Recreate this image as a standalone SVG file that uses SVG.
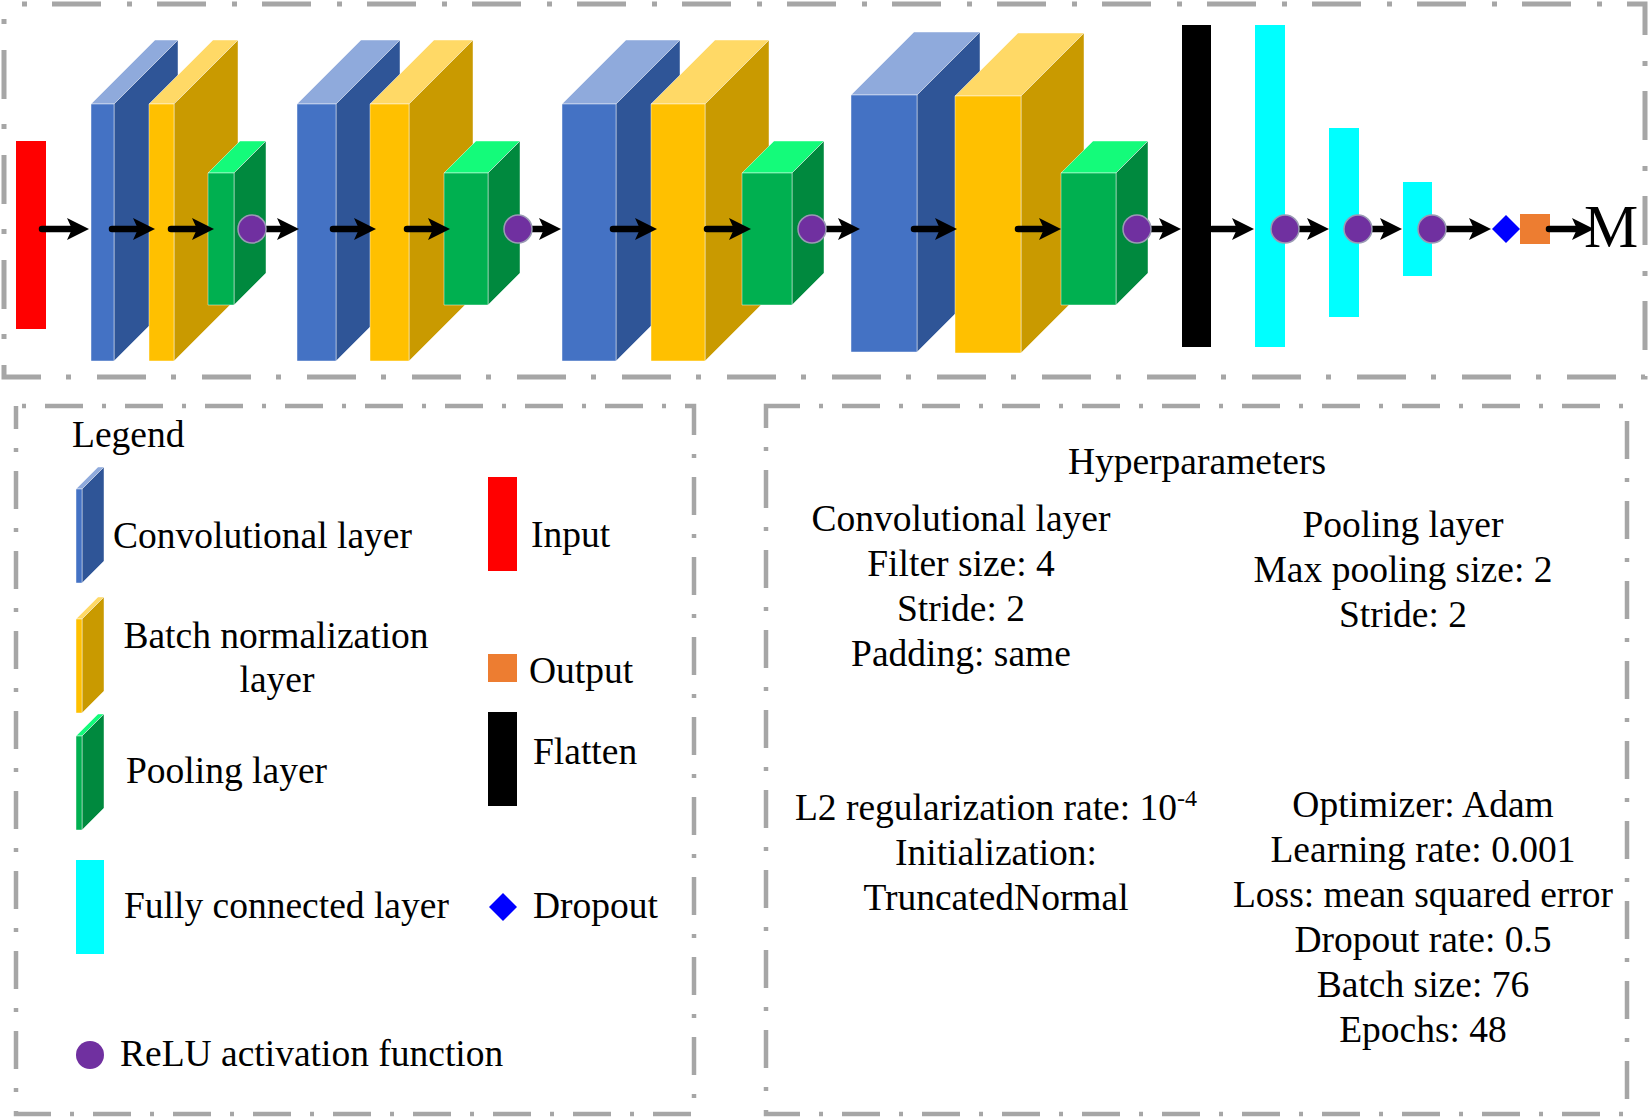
<svg xmlns="http://www.w3.org/2000/svg" width="1650" height="1118" viewBox="0 0 1650 1118">
<style>
text{font-family:"Liberation Serif","Times New Roman",serif;font-size:37.5px;fill:#000}
.m{text-anchor:middle}
.frame{fill:none;stroke:#a6a6a6}
.big{stroke-width:5;stroke-dasharray:49 26 5 25}
.small{stroke-width:4.5;stroke-dasharray:38 19 4 19}
.cf{fill:#4472c4}.ct{fill:#8faadc}.cs{fill:#2f5597}
.bf{fill:#ffc000}.bt{fill:#ffd966}.bs{fill:#c99a00}
.pf{fill:#00b050}.pt{fill:#14fb7a}.ps{fill:#00893e}
.cf,.ct,.cs,.bf,.bt,.bs,.pf,.pt,.ps{stroke:#ffffff;stroke-opacity:0.45;stroke-width:1;stroke-linejoin:round}
.relu{fill:#7030a0;stroke:#9a9ab4;stroke-width:1.5}
.arr{stroke:#000;stroke-width:6.5;stroke-linecap:round;fill:none;marker-end:url(#ah)}
</style>
<defs>
<marker id="ah" markerUnits="userSpaceOnUse" markerWidth="22" markerHeight="22" viewBox="0 0 22 22" refX="12" refY="11" orient="auto">
<path d="M0,0 L22,11 L0,22 L5,11 z" fill="#000"/>
</marker>
</defs>

<!-- frames -->
<rect class="frame big" x="4" y="4" width="1641" height="373" stroke-dashoffset="57"/>
<rect class="frame small" x="16" y="406" width="678" height="708" stroke-dashoffset="51"/>
<rect class="frame small" x="766" y="406" width="861" height="708" stroke-dashoffset="4"/>

<!-- network nodes -->
<g id="input"><rect x="16" y="141" width="30" height="188" fill="#ff0000"/></g>
<g id="conv1"><polygon class="ct" points="91,104 114,104 178,40 155,40"/><polygon class="cs" points="114,104 178,40 178,297 114,361"/><rect class="cf" x="91" y="104" width="23" height="257"/></g>
<g id="bn1"><polygon class="bt" points="149,104 174,104 238,40 213,40"/><polygon class="bs" points="174,104 238,40 238,297 174,361"/><rect class="bf" x="149" y="104" width="25" height="257"/></g>
<g id="pool1"><polygon class="pt" points="208,173 234,173 266,141 240,141"/><polygon class="ps" points="234,173 266,141 266,273 234,305"/><rect class="pf" x="208" y="173" width="26" height="132"/></g>
<g id="conv2"><polygon class="ct" points="297,104 336,104 400,40 361,40"/><polygon class="cs" points="336,104 400,40 400,297 336,361"/><rect class="cf" x="297" y="104" width="39" height="257"/></g>
<g id="bn2"><polygon class="bt" points="370,104 409,104 473,40 434,40"/><polygon class="bs" points="409,104 473,40 473,297 409,361"/><rect class="bf" x="370" y="104" width="39" height="257"/></g>
<g id="pool2"><polygon class="pt" points="444,173 488,173 520,141 476,141"/><polygon class="ps" points="488,173 520,141 520,273 488,305"/><rect class="pf" x="444" y="173" width="44" height="132"/></g>
<g id="conv3"><polygon class="ct" points="562,104 616,104 680,40 626,40"/><polygon class="cs" points="616,104 680,40 680,297 616,361"/><rect class="cf" x="562" y="104" width="54" height="257"/></g>
<g id="bn3"><polygon class="bt" points="651,104 705,104 769,40 715,40"/><polygon class="bs" points="705,104 769,40 769,297 705,361"/><rect class="bf" x="651" y="104" width="54" height="257"/></g>
<g id="pool3"><polygon class="pt" points="742,173 792,173 824,141 774,141"/><polygon class="ps" points="792,173 824,141 824,273 792,305"/><rect class="pf" x="742" y="173" width="50" height="132"/></g>
<g id="conv4"><polygon class="ct" points="851,95 917,95 980,32 914,32"/><polygon class="cs" points="917,95 980,32 980,289 917,352"/><rect class="cf" x="851" y="95" width="66" height="257"/></g>
<g id="bn4"><polygon class="bt" points="955,96 1021,96 1084,33 1018,33"/><polygon class="bs" points="1021,96 1084,33 1084,290 1021,353"/><rect class="bf" x="955" y="96" width="66" height="257"/></g>
<g id="pool4"><polygon class="pt" points="1061,173 1116,173 1148,141 1093,141"/><polygon class="ps" points="1116,173 1148,141 1148,273 1116,305"/><rect class="pf" x="1061" y="173" width="55" height="132"/></g>
<g id="flatten"><rect x="1182" y="25" width="29" height="322" fill="#000"/></g>
<g id="fc1"><rect x="1255" y="25" width="30" height="322" fill="#00ffff"/></g>
<g id="fc2"><rect x="1329" y="128" width="30" height="189" fill="#00ffff"/></g>
<g id="fc3"><rect x="1403" y="182" width="29" height="94" fill="#00ffff"/></g>
<g id="output"><rect x="1520" y="214" width="30" height="30" fill="#ed7d31"/></g>

<!-- connectors -->
<g id="connectors">
<line class="arr" x1="42" y1="229" x2="79" y2="229"/>
<line class="arr" x1="112" y1="229" x2="145" y2="229"/>
<line class="arr" x1="171" y1="229" x2="204" y2="229"/>
<line class="arr" x1="267" y1="229" x2="289" y2="229"/>
<line class="arr" x1="333" y1="229" x2="366" y2="229"/>
<line class="arr" x1="407" y1="229" x2="440" y2="229"/>
<line class="arr" x1="532" y1="229" x2="551" y2="229"/>
<line class="arr" x1="613" y1="229" x2="647" y2="229"/>
<line class="arr" x1="707" y1="229" x2="741" y2="229"/>
<line class="arr" x1="827" y1="229" x2="850" y2="229"/>
<line class="arr" x1="914" y1="229" x2="947" y2="229"/>
<line class="arr" x1="1018" y1="229" x2="1051" y2="229"/>
<line class="arr" x1="1150" y1="229" x2="1171" y2="229"/>
<line class="arr" x1="1212" y1="229" x2="1244" y2="229"/>
<line class="arr" x1="1290" y1="229" x2="1319" y2="229"/>
<line class="arr" x1="1363" y1="229" x2="1392" y2="229"/>
<line class="arr" x1="1437" y1="229" x2="1481" y2="229"/>
<line class="arr" x1="1549" y1="229" x2="1584" y2="229"/>
</g>

<g id="relu1"><circle class="relu" cx="252" cy="229" r="14"/></g>
<g id="relu2"><circle class="relu" cx="518" cy="229" r="14"/></g>
<g id="relu3"><circle class="relu" cx="812" cy="229" r="14"/></g>
<g id="relu4"><circle class="relu" cx="1137" cy="229" r="14"/></g>
<g id="relu5"><circle class="relu" cx="1285" cy="229" r="14"/></g>
<g id="relu6"><circle class="relu" cx="1358" cy="229" r="14"/></g>
<g id="relu7"><circle class="relu" cx="1432" cy="229" r="14"/></g>
<g id="dropout"><polygon points="1506,215 1520,229 1506,243 1492,229" fill="#0000ff"/></g>
<g id="target"><text x="1584" y="247" style="font-size:61px">M</text></g>

<!-- legend -->
<g id="legend">
<text x="72" y="447">Legend</text>
<polygon class="ct" points="76,489 82,489 104,467 98,467"/><polygon class="cs" points="82,489 104,467 104,561 82,583"/><rect class="cf" x="76" y="489" width="6" height="94"/>
<text x="113" y="548">Convolutional layer</text>
<rect x="488" y="477" width="29" height="94" fill="#ff0000"/>
<text x="531" y="547">Input</text>
<polygon class="bt" points="76,619 82,619 104,597 98,597"/><polygon class="bs" points="82,619 104,597 104,691 82,713"/><rect class="bf" x="76" y="619" width="6" height="94"/>
<text class="m" x="276" y="648">Batch normalization</text>
<text class="m" x="277" y="692">layer</text>
<rect x="488" y="654" width="29" height="28" fill="#ed7d31"/>
<text x="529" y="683">Output</text>
<rect x="488" y="712" width="29" height="94" fill="#000"/>
<text x="533" y="764">Flatten</text>
<polygon class="pt" points="76,736 82,736 104,714 98,714"/><polygon class="ps" points="82,736 104,714 104,808 82,830"/><rect class="pf" x="76" y="736" width="6" height="94"/>
<text x="126" y="783">Pooling layer</text>
<rect x="76" y="860" width="28" height="94" fill="#00ffff"/>
<text x="124" y="918">Fully connected layer</text>
<polygon points="503,893 517,907 503,921 489,907" fill="#0000ff"/>
<text x="533" y="918">Dropout</text>
<circle cx="90" cy="1055" r="14" fill="#7030a0"/>
<text x="120" y="1066">ReLU activation function</text>
</g>

<!-- hyperparameters -->
<g id="hyperparameters">
<text class="m" x="1197" y="474">Hyperparameters</text>
<text class="m" x="961" y="531">Convolutional layer</text>
<text class="m" x="961" y="576">Filter size: 4</text>
<text class="m" x="961" y="621">Stride: 2</text>
<text class="m" x="961" y="666">Padding: same</text>
<text class="m" x="1403" y="537">Pooling layer</text>
<text class="m" x="1403" y="582">Max pooling size: 2</text>
<text class="m" x="1403" y="627">Stride: 2</text>
<text class="m" x="996" y="820">L2 regularization rate: 10<tspan dy="-14" style="font-size:24px">-4</tspan></text>
<text class="m" x="996" y="865">Initialization:</text>
<text class="m" x="996" y="910">TruncatedNormal</text>
<text class="m" x="1423" y="817">Optimizer: Adam</text>
<text class="m" x="1423" y="862">Learning rate: 0.001</text>
<text class="m" x="1423" y="907">Loss: mean squared error</text>
<text class="m" x="1423" y="952">Dropout rate: 0.5</text>
<text class="m" x="1423" y="997">Batch size: 76</text>
<text class="m" x="1423" y="1042">Epochs: 48</text>
</g>
</svg>
